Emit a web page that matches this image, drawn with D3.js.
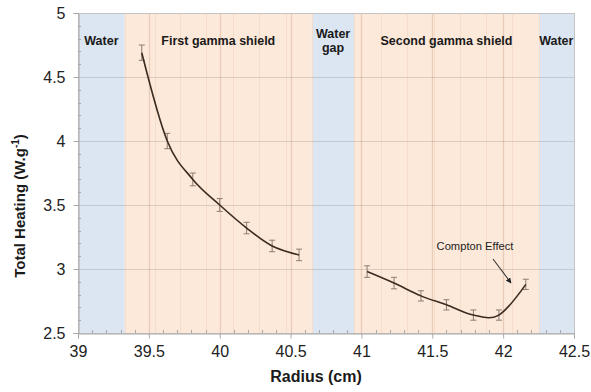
<!DOCTYPE html>
<html>
<head>
<meta charset="utf-8">
<script src="https://cdn.jsdelivr.net/npm/d3@7"></script>
<style>
  html, body { margin: 0; padding: 0; background: #fff; }
  svg { display: block; font-family: "Liberation Sans", Arial, sans-serif; }
</style>
</head>
<body>
<svg id="chart" width="591" height="392"></svg>
<script>
// Heating profile across the shield layers
const radius1 = [39.45, 39.63, 39.81, 40.00, 40.19, 40.37, 40.56];
const heating1 = [4.69, 4.00, 3.70, 3.50, 3.32, 3.18, 3.11];
const error1 = [0.06, 0.06, 0.05, 0.05, 0.045, 0.045, 0.045];

const radius2 = [41.04, 41.23, 41.42, 41.60, 41.79, 41.97, 42.16];
const heating2 = [2.98, 2.89, 2.79, 2.72, 2.64, 2.64, 2.88];
const error2 = [0.045, 0.045, 0.04, 0.04, 0.04, 0.04, 0.04];

// Material layers along the radius
const layerStart = [39.00, 39.33, 40.65, 40.95, 42.25];
const layerEnd   = [39.33, 40.65, 40.95, 42.25, 42.50];
const layerKind  = ["water", "shield", "water", "shield", "water"];
const layerLabel = [["Water"], ["First gamma shield"], ["Water", "gap"], ["Second gamma shield"], ["Water"]];

const xTicks = [39, 39.5, 40, 40.5, 41, 41.5, 42, 42.5];
const yTicks = [2.5, 3, 3.5, 4, 4.5, 5];

const svg = d3.select("#chart");
const plotL = 78, plotR = 574, plotT = 13, plotB = 333;

const x = d3.scaleLinear().domain([39, 42.5]).range([plotL, plotR]);
const y = d3.scaleLinear().domain([2.5, 5]).range([plotB, plotT]);

const fills = { water: "#dce6f2", shield: "#fde9d9" };

// layer bands
svg.append("g").selectAll("rect")
  .data(layerStart)
  .join("rect")
  .attr("x", (d, i) => x(d))
  .attr("width", (d, i) => x(layerEnd[i]) - x(d))
  .attr("y", plotT)
  .attr("height", plotB - plotT)
  .attr("fill", (d, i) => fills[layerKind[i]]);

// cell boundaries inside the shields: midpoints between tally positions plus layer edges
function cellEdges(r, a, b) {
  const e = [a];
  for (let i = 0; i < r.length - 1; i++) e.push((r[i] + r[i + 1]) / 2);
  e.push(b);
  return e;
}
const edges = cellEdges(radius1, layerStart[1], layerEnd[1]).concat(cellEdges(radius2, layerStart[3], layerEnd[3]));
svg.append("g").selectAll("line")
  .data(edges)
  .join("line")
  .attr("x1", d => Math.round(x(d)) + 0.5).attr("x2", d => Math.round(x(d)) + 0.5)
  .attr("y1", plotT).attr("y2", plotB)
  .attr("stroke", "#f6dcc9").attr("stroke-width", 1);

// major gridlines
svg.append("g").selectAll("line")
  .data(xTicks.slice(1, -1))
  .join("line")
  .attr("x1", d => Math.round(x(d)) + 0.5).attr("x2", d => Math.round(x(d)) + 0.5)
  .attr("y1", plotT).attr("y2", plotB)
  .attr("stroke", "rgba(170,120,90,0.25)").attr("stroke-width", 1.3);

svg.append("g").selectAll("line")
  .data(yTicks.slice(1, -1))
  .join("line")
  .attr("x1", plotL).attr("x2", plotR)
  .attr("y1", d => Math.round(y(d)) + 0.5).attr("y2", d => Math.round(y(d)) + 0.5)
  .attr("stroke", "rgba(120,115,110,0.25)").attr("stroke-width", 1.2);

// frame
svg.append("rect")
  .attr("x", plotL + 0.5).attr("y", plotT + 0.5)
  .attr("width", plotR - plotL).attr("height", plotB - plotT)
  .attr("fill", "none").attr("stroke", "#c4c4c4");

// axes
const xAxis = d3.axisBottom(x).tickValues(xTicks).tickSize(5).tickFormat(d3.format("~g"));
const yAxis = d3.axisLeft(y).tickValues(yTicks).tickSize(5).tickFormat(d3.format("~g"));

const gx = svg.append("g").attr("transform", `translate(0,${plotB + 0.5})`).call(xAxis);
const gy = svg.append("g").attr("transform", `translate(${plotL + 0.5},0)`).call(yAxis);
[gx, gy].forEach(g => {
  g.select(".domain").attr("stroke", "#a8a8a8");
  g.selectAll(".tick line").attr("stroke", "#a8a8a8");
  g.selectAll(".tick text").attr("fill", "#222").attr("font-size", 16)
    .attr("font-family", "'Liberation Sans', Arial, sans-serif");
});
gx.selectAll(".tick text").attr("dy", null).attr("y", 23);
gy.selectAll(".tick text").attr("x", -13).attr("dy", "0.36em");

// minor ticks pointing inward
const minorX = d3.range(391, 425).map(v => v / 10).filter(v => Math.abs(v * 2 - Math.round(v * 2)) > 1e-6);
const minorY = d3.range(26, 50).map(v => v / 10).filter(v => Math.abs(v * 2 - Math.round(v * 2)) > 1e-6);
svg.append("g").selectAll("line").data(minorX).join("line")
  .attr("x1", d => Math.round(x(d)) + 0.5).attr("x2", d => Math.round(x(d)) + 0.5)
  .attr("y1", plotB).attr("y2", plotB - 3)
  .attr("stroke", "#a8a8a8");
svg.append("g").selectAll("line").data(minorY).join("line")
  .attr("y1", d => Math.round(y(d)) + 0.5).attr("y2", d => Math.round(y(d)) + 0.5)
  .attr("x1", plotL).attr("x2", plotL + 3)
  .attr("stroke", "#a8a8a8");

// layer labels
const labelCx = layerStart.map((d, i) => (x(d) + x(layerEnd[i])) / 2);
const lg = svg.append("g").attr("font-weight", "bold").attr("font-size", 12.5).attr("fill", "#1a1a1a").attr("text-anchor", "middle");
layerLabel.forEach((lines, i) => {
  const base = lines.length > 1 ? 38 : 45;
  const t = lg.append("text").attr("x", labelCx[i]).attr("y", base);
  lines.forEach((s, j) => t.append("tspan").attr("x", labelCx[i]).attr("y", base + j * 14).text(s));
});

// curves and error bars
const line = d3.line().x(d => x(d[0])).y(d => y(d[1])).curve(d3.curveCatmullRom.alpha(0));
function series(r, h, e) {
  const pts = r.map((v, i) => [v, h[i], e[i]]);
  const g = svg.append("g");
  const eb = g.selectAll("g").data(pts).join("g").attr("stroke", "#8e7c70").attr("stroke-width", 1);
  eb.append("line").attr("x1", d => x(d[0])).attr("x2", d => x(d[0]))
    .attr("y1", d => y(d[1] + d[2])).attr("y2", d => y(d[1] - d[2]));
  eb.append("line").attr("x1", d => x(d[0]) - 3).attr("x2", d => x(d[0]) + 3)
    .attr("y1", d => y(d[1] + d[2])).attr("y2", d => y(d[1] + d[2]));
  eb.append("line").attr("x1", d => x(d[0]) - 3).attr("x2", d => x(d[0]) + 3)
    .attr("y1", d => y(d[1] - d[2])).attr("y2", d => y(d[1] - d[2]));
  g.append("path").datum(pts).attr("d", line)
    .attr("fill", "none").attr("stroke", "#3a2a20").attr("stroke-width", 1.6);
}
series(radius1, heating1, error1);
series(radius2, heating2, error2);

// annotation
svg.append("defs").append("marker")
  .attr("id", "arrow").attr("viewBox", "0 0 10 10").attr("refX", 9).attr("refY", 5)
  .attr("markerWidth", 5).attr("markerHeight", 5).attr("orient", "auto")
  .append("path").attr("d", "M0,0L10,5L0,10z").attr("fill", "#222");
svg.append("text").attr("x", 475).attr("y", 250).attr("text-anchor", "middle")
  .attr("font-size", 11.2).attr("fill", "#222").text("Compton Effect");
svg.append("line").attr("x1", 493).attr("y1", 259).attr("x2", 511).attr("y2", 283)
  .attr("stroke", "#333").attr("stroke-width", 1.1).attr("marker-end", "url(#arrow)");

// axis titles
svg.append("text").attr("x", 316).attr("y", 382).attr("text-anchor", "middle")
  .attr("font-weight", "bold").attr("font-size", 16).attr("fill", "#1a1a1a").text("Radius (cm)");
const yt = svg.append("text").attr("transform", "translate(25,206) rotate(-90)").attr("text-anchor", "middle")
  .attr("font-weight", "bold").attr("font-size", 15).attr("fill", "#1a1a1a");
yt.append("tspan").text("Total Heating (W.g");
yt.append("tspan").attr("font-size", 10).attr("dy", -6).text("-1");
yt.append("tspan").attr("dy", 6).text(")");
</script>
</body>
</html>
